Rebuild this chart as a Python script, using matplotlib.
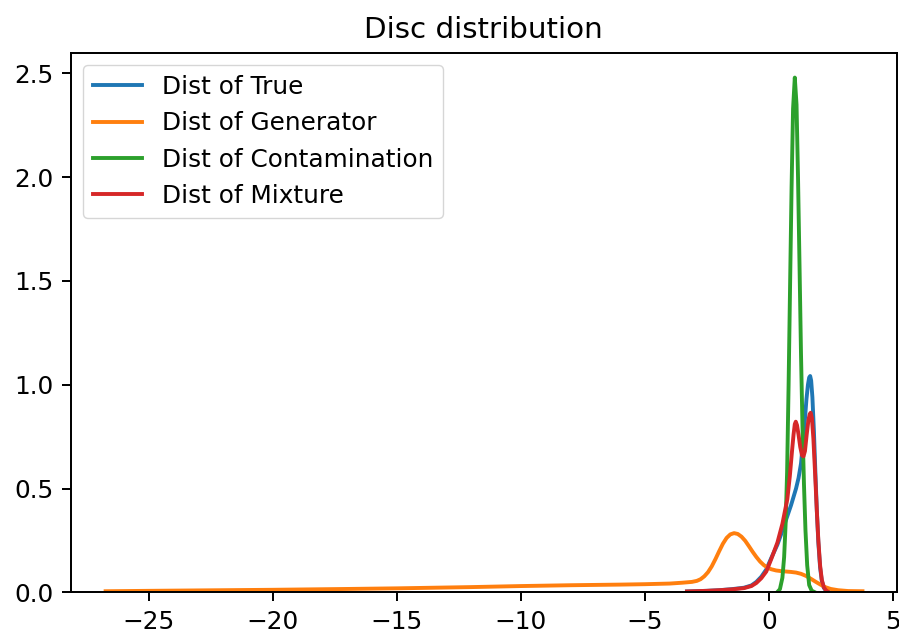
"""
KDE curves of the discriminator output for true, generated, contamination and mixture samples.
"""
import matplotlib.pyplot as plt

# ================= curve values =================
true_x = [-3.3, -2.5, -2.0, -1.5, -1.0, -0.7, -0.5, -0.3, -0.1, 0.1, 0.35, 0.5, 0.7, 0.9,
          1.1, 1.2, 1.3, 1.38, 1.45, 1.52, 1.58, 1.63, 1.67, 1.71, 1.76, 1.82, 1.88, 1.94,
          2.0, 2.07, 2.14, 2.22, 2.3, 2.4]
true_y = [0.004, 0.007, 0.01, 0.015, 0.022, 0.033, 0.05, 0.075, 0.11, 0.165, 0.23, 0.28, 0.35, 0.42,
          0.5, 0.55, 0.62, 0.72, 0.82, 0.93, 1.0, 1.035, 1.042, 1.02, 0.94, 0.78, 0.58, 0.39,
          0.24, 0.12, 0.055, 0.022, 0.009, 0.003]

gen_x = [-26.75, -25, -22, -20, -17, -15, -12, -10, -8, -6, -5, -4, -3.5, -3.3, -3.1, -2.9,
         -2.75, -2.6, -2.45, -2.3, -2.15, -2.0, -1.85, -1.7, -1.55, -1.4, -1.25, -1.1, -0.95,
         -0.8, -0.65, -0.5, -0.35, -0.2, -0.05, 0.1, 0.3, 0.5, 0.7, 0.9, 1.1, 1.3, 1.5, 1.7,
         1.9, 2.1, 2.3, 2.5, 2.8, 3.2, 3.78]
gen_y = [0.005, 0.007, 0.01, 0.012, 0.016, 0.019, 0.025, 0.03, 0.034, 0.037, 0.039, 0.042, 0.046,
         0.048, 0.05, 0.055, 0.063, 0.077, 0.097, 0.125, 0.16, 0.198, 0.234, 0.262, 0.279, 0.285,
         0.281, 0.268, 0.248, 0.222, 0.195, 0.17, 0.148, 0.131, 0.119, 0.111, 0.105, 0.102, 0.1,
         0.098, 0.095, 0.089, 0.079, 0.065, 0.05, 0.036, 0.024, 0.016, 0.01, 0.006, 0.005]

cont_x = [0.36, 0.45, 0.55, 0.62, 0.68, 0.74, 0.8, 0.86, 0.92, 0.98, 1.05, 1.12, 1.18, 1.24,
          1.3, 1.36, 1.42, 1.48, 1.55, 1.63, 1.73, 1.83]
cont_y = [0.003, 0.015, 0.07, 0.17, 0.33, 0.58, 1.0, 1.48, 1.95, 2.33, 2.48, 2.35, 2.0, 1.58,
          1.15, 0.8, 0.52, 0.3, 0.13, 0.035, 0.008, 0.002]

mix_x = [-3.3, -2.5, -2.0, -1.5, -1.0, -0.7, -0.5, -0.3, -0.1, 0.1, 0.35, 0.55, 0.75, 0.85,
         0.93, 1.0, 1.05, 1.09, 1.14, 1.2, 1.27, 1.34, 1.4, 1.46, 1.53, 1.6, 1.65, 1.69, 1.74,
         1.8, 1.87, 1.94, 2.0, 2.07, 2.14, 2.22, 2.3, 2.37]
mix_y = [0.004, 0.007, 0.01, 0.014, 0.02, 0.03, 0.045, 0.068, 0.1, 0.16, 0.24, 0.33, 0.45, 0.56,
         0.67, 0.76, 0.81, 0.822, 0.805, 0.76, 0.7, 0.66, 0.655, 0.68, 0.76, 0.83, 0.858, 0.865,
         0.84, 0.74, 0.57, 0.39, 0.25, 0.13, 0.06, 0.025, 0.01, 0.004]

labels = ["Dist of True", "Dist of Generator", "Dist of Contamination", "Dist of Mixture"]
title = "Disc distribution"


def draw_kde(output_name):
    # scaled-up notebook look: everything ~2.47x the default sizes
    plt.rcParams.update({
        "font.size": 17.8,
        "axes.linewidth": 1.42,
        "lines.linewidth": 2.8,
        "xtick.major.size": 6.2, "ytick.major.size": 6.2,
        "xtick.major.width": 1.42, "ytick.major.width": 1.42,
        "xtick.major.pad": 6.2, "ytick.major.pad": 6.2,
    })
    fig = plt.figure(figsize=(8.99, 6.34), dpi=100)
    ax = fig.add_axes([0.0786, 0.0658, 0.9191, 0.8511])

    curves = [(true_x, true_y), (gen_x, gen_y), (cont_x, cont_y), (mix_x, mix_y)]
    for (xs, ys), lab, c in zip(curves, labels, ["C0", "C1", "C2", "C3"]):
        ax.plot(xs, ys, color=c, label=lab)

    ax.set_xlim(-28.16, 5.17)
    ax.set_ylim(0, 2.6)
    ax.set_xticks([-25, -20, -15, -10, -5, 0, 5])
    ax.set_yticks([0.0, 0.5, 1.0, 1.5, 2.0, 2.5])
    ax.set_title(title, fontsize=21.2, pad=10.7)
    ax.legend(loc="upper left")

    fig.savefig(output_name, dpi=100)
    plt.close()


if __name__ == '__main__':
    draw_kde("out.png")
